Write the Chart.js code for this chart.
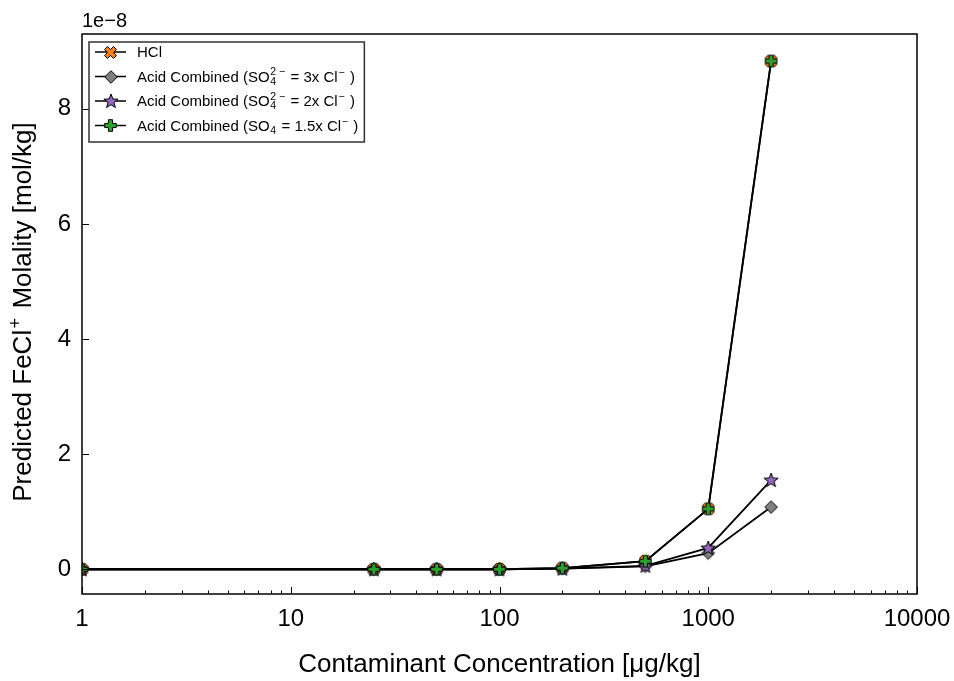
<!DOCTYPE html>
<html>
<head>
<meta charset="utf-8">
<script src="https://cdn.jsdelivr.net/npm/chart.js@4.4.1/dist/chart.umd.min.js"></script>
<style>
  body { margin: 0; background: #fff; }
  canvas { display: block; }
</style>
</head>
<body>
<canvas id="grafico" width="954" height="681"></canvas>
<script>
// concentraciones (ug/kg) y molalidades en unidades de 1e-8 mol/kg
const concentrations = [1, 25, 50, 100, 200, 500, 1000, 2000];
const hclValues = [0, 0, 0, 0, 0.02, 0.14, 1.05, 8.83];
const sulfate3xValues = [0, 0, 0, 0, 0.01, 0.05, 0.28, 1.08];
const sulfate2xValues = [0, 0, 0, 0, 0.01, 0.06, 0.37, 1.55];
const sulfate15xValues = [0, 0, 0, 0, 0.02, 0.14, 1.05, 8.83];

const seriesLabels = [
  'HCl',
  'Acid Combined (SO_{4}^{2\u2212} = 3x Cl^{\u2212} )',
  'Acid Combined (SO_{4}^{2\u2212} = 2x Cl^{\u2212} )',
  'Acid Combined (SO_{4} = 1.5x Cl^{\u2212} )'
];
const seriesColors = ['#ff7f0e', '#7f7f7f', '#9467bd', '#2ca02c'];
const seriesMarkers = ['X', 'D', '*', 'P'];

const xTickValues = [1, 10, 100, 1000, 10000];
const yTickValues = [0, 2, 4, 6, 8];
const offsetLabel = '1e\u22128';
const xTitle = 'Contaminant Concentration [\u03bcg/kg]';
const yTitle = 'Predicted FeCl^{+} Molality [mol/kg]';

const FONT = '"Liberation Sans", Arial, sans-serif';

// ---- marcadores estilo matplotlib ----
function makeMarker(kind, fill) {
  const r = kind === '*' ? 7.5 : (kind === 'D' ? 6.3 : 5.8);
  const size = Math.ceil(2 * r + 3);
  const c = document.createElement('canvas');
  c.width = size; c.height = size;
  const g = c.getContext('2d');
  const cx = size / 2, cy = size / 2;
  g.beginPath();
  if (kind === 'D') {
    g.moveTo(cx, cy - r); g.lineTo(cx + r, cy); g.lineTo(cx, cy + r); g.lineTo(cx - r, cy);
  } else if (kind === '*') {
    for (let i = 0; i < 10; i++) {
      const rr = i % 2 === 0 ? r : r * 0.42;
      const a = -Math.PI / 2 + i * Math.PI / 5;
      const px = cx + rr * Math.cos(a), py = cy + 0.5 + rr * Math.sin(a);
      if (i === 0) g.moveTo(px, py); else g.lineTo(px, py);
    }
  } else {
    // cruz rellena (P) o girada 45 grados (X)
    const w = r * 0.36, e = kind === 'X' ? r * 1.1 : r;
    const pts = [[-w, -e], [w, -e], [w, -w], [e, -w], [e, w], [w, w], [w, e], [-w, e], [-w, w], [-e, w], [-e, -w], [-w, -w]];
    const ang = kind === 'X' ? Math.PI / 4 : 0;
    pts.forEach((p, i) => {
      const px = cx + p[0] * Math.cos(ang) - p[1] * Math.sin(ang);
      const py = cy + p[0] * Math.sin(ang) + p[1] * Math.cos(ang);
      if (i === 0) g.moveTo(px, py); else g.lineTo(px, py);
    });
  }
  g.closePath();
  g.fillStyle = fill; g.fill();
  g.lineWidth = 1; g.strokeStyle = '#000'; g.stroke();
  return c;
}
const markerImages = seriesMarkers.map((m, i) => makeMarker(m, seriesColors[i]));

// ---- texto con sub/superindices ----
function parseRich(str) {
  const items = [];
  let buf = '', i = 0, lastScript = false;
  while (i < str.length) {
    const ch = str[i];
    if ((ch === '_' || ch === '^') && str[i + 1] === '{') {
      const end = str.indexOf('}', i);
      const txt = str.slice(i + 2, end);
      if (buf) { items.push({ type: 'n', text: buf }); buf = ''; lastScript = false; }
      let s = lastScript ? items[items.length - 1] : { type: 's', sub: '', sup: '' };
      if (!lastScript) items.push(s);
      if (ch === '_') s.sub = txt; else s.sup = txt;
      lastScript = true;
      i = end + 1;
    } else {
      buf += ch; i++;
    }
  }
  if (buf) items.push({ type: 'n', text: buf });
  return items;
}

function drawRich(ctx, str, x, y, fs, draw) {
  const items = parseRich(str);
  const small = fs * 0.7;
  let cx = x;
  items.forEach(it => {
    if (it.type === 'n') {
      ctx.font = fs + 'px ' + FONT;
      if (draw) ctx.fillText(it.text, cx, y);
      cx += ctx.measureText(it.text).width;
    } else {
      ctx.font = small + 'px ' + FONT;
      // separa el signo tras un numero, como hace mathtext
      const sup = it.sup.length > 1 ? it.sup.replace('\u2212', ' \u2212') : it.sup;
      const wSup = sup ? ctx.measureText(sup).width : 0;
      const wSub = it.sub ? ctx.measureText(it.sub).width : 0;
      cx += fs * 0.05;
      if (draw) {
        if (sup) ctx.fillText(sup, cx, y - fs * (it.sub ? 0.42 : 0.38));
        if (it.sub) ctx.fillText(it.sub, cx, y + fs * 0.22);
      }
      cx += Math.max(wSup, wSub) + fs * 0.08;
    }
  });
  return cx - x;
}

// ---- marco, ticks hacia dentro, leyenda y titulos ----
const decoraciones = {
  id: 'decoraciones',
  afterDraw(chart) {
    const { ctx, chartArea: a, scales } = chart;
    const sx = scales.x, sy = scales.y;
    ctx.save();
    ctx.strokeStyle = '#000';
    ctx.lineWidth = 1;
    function seg(x1, y1, x2, y2) { ctx.beginPath(); ctx.moveTo(x1, y1); ctx.lineTo(x2, y2); ctx.stroke(); }

    xTickValues.forEach(v => {
      const px = Math.round(sx.getPixelForValue(v)) + 0.5;
      seg(px, a.bottom, px, a.bottom - 7);
    });
    for (let d = 1; d < 10000; d *= 10) {
      for (let k = 2; k < 10; k++) {
        const px = Math.round(sx.getPixelForValue(d * k)) + 0.5;
        seg(px, a.bottom, px, a.bottom - 3.5);
      }
    }
    yTickValues.forEach(v => {
      const py = Math.round(sy.getPixelForValue(v)) + 0.5;
      seg(a.left, py, a.left + 7, py);
    });

    ctx.lineWidth = 1.5;
    ctx.strokeRect(a.left, a.top, a.right - a.left, a.bottom - a.top);

    // texto de desplazamiento
    ctx.fillStyle = '#000';
    ctx.textBaseline = 'alphabetic';
    ctx.textAlign = 'left';
    ctx.font = '20px ' + FONT;
    ctx.fillText(offsetLabel, a.left, 27);

    // titulo eje x
    ctx.font = '26px ' + FONT;
    ctx.textAlign = 'center';
    ctx.fillText(xTitle, (a.left + a.right) / 2, 672);

    // titulo eje y (rotado)
    ctx.textAlign = 'left';
    const wy = drawRich(ctx, yTitle, 0, 0, 26, false);
    ctx.save();
    ctx.translate(31, (a.top + a.bottom) / 2 - 2);
    ctx.rotate(-Math.PI / 2);
    drawRich(ctx, yTitle, -wy / 2, 0, 26, true);
    ctx.restore();

    // leyenda
    const fs = 15;
    const bx = a.left + 7, by = a.top + 8;
    const rowH = 24.5;
    let maxW = 0;
    seriesLabels.forEach(l => { maxW = Math.max(maxW, drawRich(ctx, l, 0, 0, fs, false)); });
    const textX = bx + 48;
    const bw = textX - bx + maxW + 6, bh = rowH * seriesLabels.length + 2;
    ctx.fillStyle = '#fff';
    ctx.fillRect(bx, by, bw, bh);
    ctx.strokeStyle = '#333';
    ctx.lineWidth = 1.5;
    ctx.strokeRect(bx, by, bw, bh);
    seriesLabels.forEach((l, i) => {
      const ry = by + 10 + i * rowH;
      ctx.strokeStyle = '#000';
      ctx.lineWidth = 1.5;
      seg(bx + 6, ry, bx + 37, ry);
      const img = markerImages[i];
      ctx.drawImage(img, Math.round(bx + 21.5 - img.width / 2), Math.round(ry - img.height / 2));
      ctx.fillStyle = '#000';
      drawRich(ctx, l, textX, ry + 5, fs, true);
    });
    ctx.restore();
  }
};

const seriesValues = [hclValues, sulfate3xValues, sulfate2xValues, sulfate15xValues];

new Chart(document.getElementById('grafico'), {
  type: 'line',
  data: {
    datasets: seriesValues.map((vals, i) => ({
      label: seriesLabels[i],
      data: concentrations.map((c, j) => ({ x: c, y: vals[j] })),
      borderColor: '#000',
      borderWidth: 1.8,
      tension: 0,
      pointStyle: markerImages[i],
      pointRadius: 6,
      order: seriesValues.length - i
    }))
  },
  options: {
    responsive: false,
    animation: false,
    devicePixelRatio: 1,
    layout: { padding: { top: 34, right: 37, left: 0, bottom: 0 } },
    plugins: { legend: { display: false }, tooltip: { enabled: false } },
    scales: {
      x: {
        type: 'logarithmic',
        min: 1,
        max: 10000,
        afterBuildTicks: s => { s.ticks = xTickValues.map(v => ({ value: v })); },
        afterFit: s => { s.height = 87; s.paddingLeft = 0; s.paddingRight = 0; },
        grid: { display: false, drawTicks: false },
        border: { display: false },
        ticks: {
          color: '#000',
          padding: 11,
          maxRotation: 0,
          autoSkip: false,
          font: { family: FONT, size: 24 },
          callback: v => String(v)
        }
      },
      y: {
        min: -0.43,
        max: 9.3,
        afterBuildTicks: s => { s.ticks = yTickValues.map(v => ({ value: v })); },
        afterFit: s => { s.width = 82; s.paddingTop = 0; s.paddingBottom = 0; },
        grid: { display: false, drawTicks: false },
        border: { display: false },
        ticks: {
          color: '#000',
          padding: 11,
          font: { family: FONT, size: 24 },
          callback: v => String(v)
        }
      }
    }
  },
  plugins: [decoraciones]
});
</script>
</body>
</html>
